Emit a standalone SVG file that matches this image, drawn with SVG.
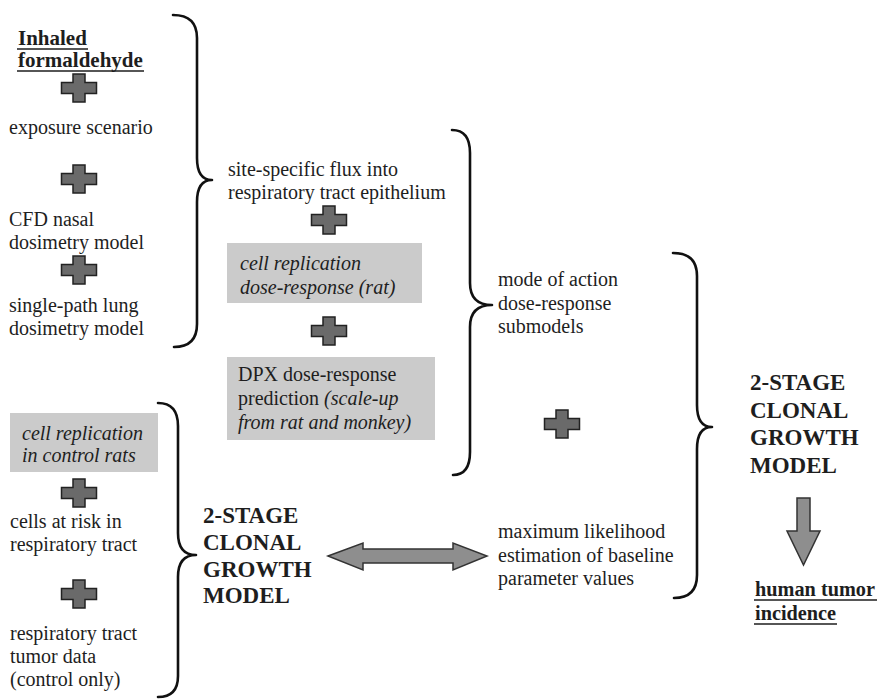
<svg xmlns="http://www.w3.org/2000/svg" width="879" height="700" viewBox="0 0 879 700">
<style>
text{font-family:"Liberation Serif","Times New Roman",serif;font-size:20px;fill:#1e1e1e}
.b{font-weight:bold;font-size:21px}
.b2{font-weight:bold;font-size:20.3px}
.big{font-weight:bold;font-size:23px}
.i{font-style:italic}
.box{fill:#cbcbcb}
.ul{stroke:#1e1e1e;stroke-width:1.6}
.brace{fill:none;stroke:#111;stroke-width:2.6;stroke-linecap:round;stroke-linejoin:round}
.plus{fill:#6a6a6a;stroke:#222;stroke-width:1.5}
.arrow{fill:#8e8e8e;stroke:#333;stroke-width:1.5}
</style>
<defs>
<path id="plus" d="M -6,-14 H 6 V -5.5 H 17.5 V 5.5 H 6 V 14 H -6 V 5.5 H -17.5 V -5.5 H -6 Z"/>
</defs>
<rect width="879" height="700" fill="#ffffff"/>

<g id="inhaled-formaldehyde">
<text class="b" x="18" y="45">Inhaled</text>
<text class="b" x="18" y="67">formaldehyde</text>
<line class="ul" x1="17" y1="49" x2="88" y2="49"/>
<line class="ul" x1="17" y1="71" x2="144" y2="71"/>
</g>
<g id="exposure-scenario"><text x="9" y="134">exposure scenario</text></g>
<g id="cfd-nasal"><text x="9" y="226">CFD nasal</text><text x="9" y="249">dosimetry model</text></g>
<g id="lung-model"><text x="9" y="312">single-path lung</text><text x="9" y="335">dosimetry model</text></g>

<g id="site-flux"><text x="228" y="176">site-specific flux into</text><text x="228" y="199">respiratory tract epithelium</text></g>
<g id="cell-replication-rat">
<rect class="box" x="227" y="243" width="195" height="60"/>
<text class="i" x="240" y="270">cell replication</text>
<text class="i" x="240" y="294">dose-response (rat)</text>
</g>
<g id="dpx">
<rect class="box" x="227" y="357" width="208" height="83"/>
<text x="238" y="381">DPX dose-response</text>
<text x="238" y="405">prediction <tspan class="i">(scale-up</tspan></text>
<text class="i" x="238" y="429">from rat and monkey)</text>
</g>

<g id="mode-of-action"><text x="498" y="286">mode of action</text><text x="498" y="309.5">dose-response</text><text x="498" y="333">submodels</text></g>
<g id="mle"><text x="498" y="538">maximum likelihood</text><text x="498" y="562">estimation of baseline</text><text x="498" y="585">parameter values</text></g>

<g id="cell-replication-control">
<rect class="box" x="10" y="413" width="148" height="59"/>
<text class="i" x="22" y="440">cell replication</text>
<text class="i" x="22" y="462">in control rats</text>
</g>
<g id="cells-at-risk"><text x="10" y="528">cells at risk in</text><text x="10" y="551">respiratory tract</text></g>
<g id="tumor-data"><text x="10" y="640">respiratory tract</text><text x="10" y="663">tumor data</text><text x="10" y="686">(control only)</text></g>

<g id="clonal-model-left">
<text class="big" x="203" y="523">2-STAGE</text>
<text class="big" x="203" y="550">CLONAL</text>
<text class="big" x="203" y="577">GROWTH</text>
<text class="big" x="203" y="603">MODEL</text>
</g>
<g id="clonal-model-right">
<text class="big" x="750" y="390">2-STAGE</text>
<text class="big" x="750" y="417.5">CLONAL</text>
<text class="big" x="750" y="445">GROWTH</text>
<text class="big" x="750" y="472.5">MODEL</text>
</g>
<g id="human-tumor-incidence">
<text class="b2" x="755" y="596">human tumor</text>
<text class="b2" x="755" y="620">incidence</text>
<line class="ul" x1="754" y1="600" x2="877" y2="600"/>
<line class="ul" x1="754" y1="624" x2="837" y2="624"/>
</g>

<g id="plus-signs">
<use href="#plus" class="plus" x="79" y="88"/>
<use href="#plus" class="plus" x="79" y="179"/>
<use href="#plus" class="plus" x="79" y="270"/>
<use href="#plus" class="plus" x="329" y="220"/>
<use href="#plus" class="plus" x="329" y="331"/>
<use href="#plus" class="plus" x="562" y="424"/>
<use href="#plus" class="plus" x="79" y="493"/>
<use href="#plus" class="plus" x="79" y="594"/>
</g>

<g id="connectors">
<path class="brace" d="M173,15 Q197,15 197,38 L197,158 Q197,180 212,180 Q197,180 197,202 L197,324 Q197,347 174,347"/>
<path class="brace" d="M452,130 Q470,130 470,153 L470,283 Q470,305 492,305 Q470,305 470,327 L470,452 Q470,475 453,475"/>
<path class="brace" d="M673,253 Q697,253 697,276 L697,405 Q697,427 712,427 Q697,427 697,449 L697,575 Q697,598 674,598"/>
<path class="brace" d="M158,403 Q178,403 178,426 L178,533 Q178,555 196,555 Q178,555 178,577 L178,676 Q178,697 158,697"/>
<polygon class="arrow" points="328,556 363,543 363,549 453,549 453,543 487,556 453,570 453,563 363,563 363,570"/>
<polygon class="arrow" points="797,498 810,498 810,531 820,531 803.5,565 787,531 797,531"/>
</g>
</svg>
